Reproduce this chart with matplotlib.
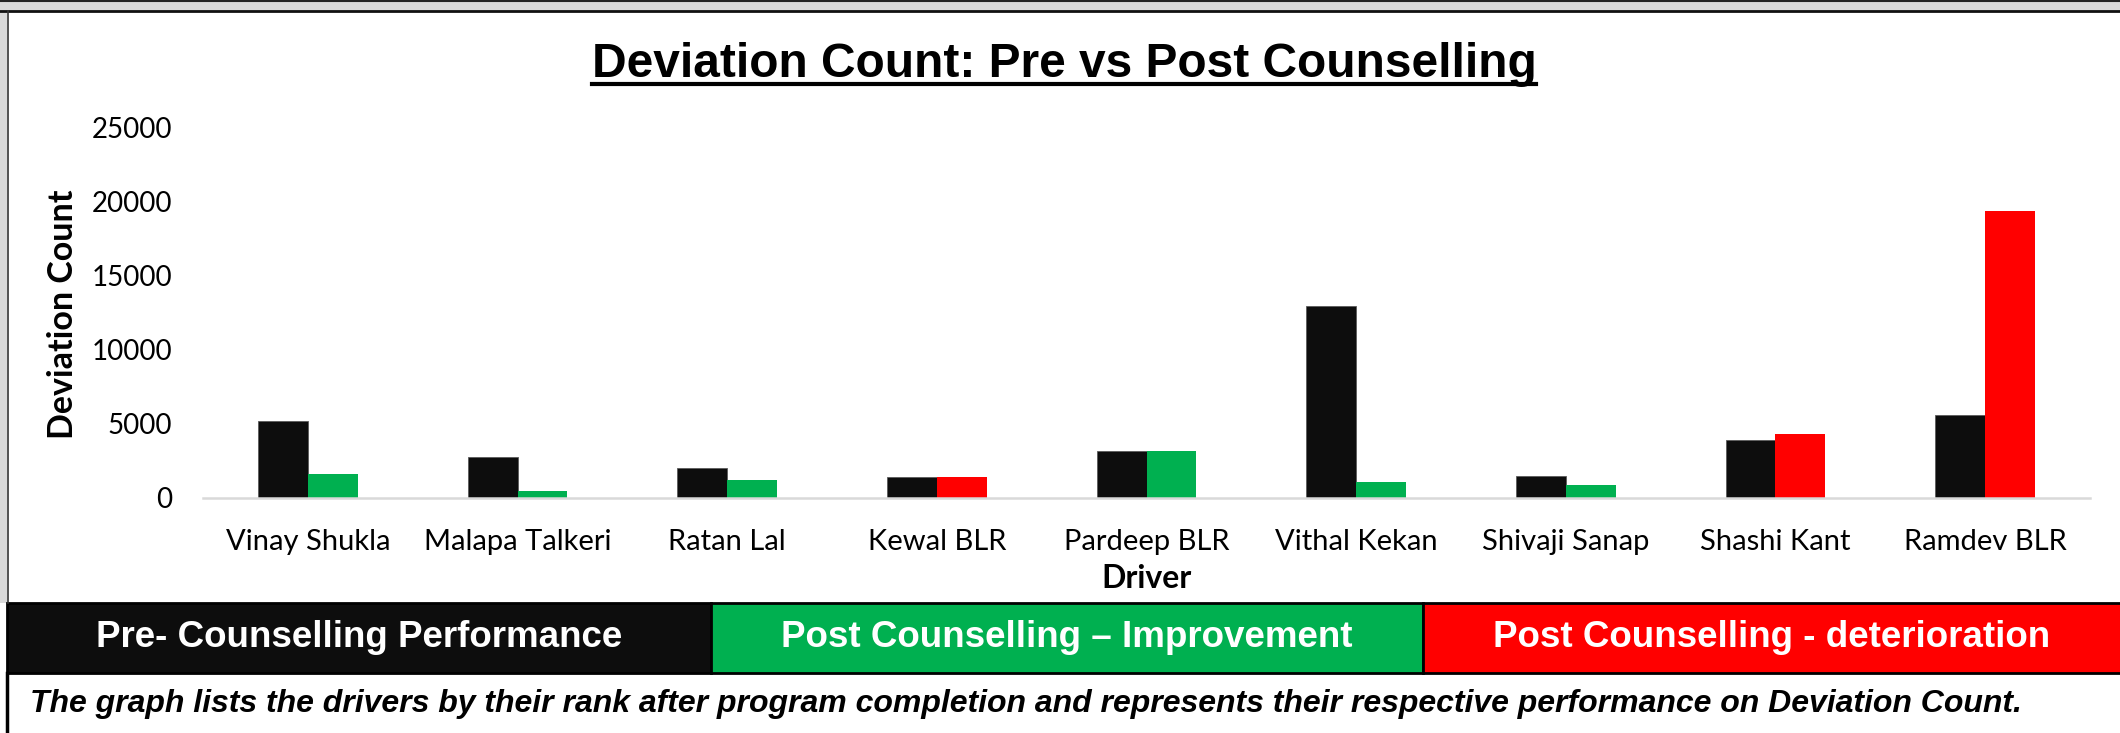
import numpy as np
import matplotlib
matplotlib.use("Agg")
import matplotlib.pyplot as plt
from matplotlib.patches import Rectangle
from matplotlib.lines import Line2D

drivers = ["Vinay Shukla", "Malapa Talkeri", "Ratan Lal", "Kewal BLR", "Pardeep BLR",
           "Vithal Kekan", "Shivaji Sanap", "Shashi Kant", "Ramdev BLR"]
pre_counselling = [5200, 2750, 2000, 1400, 3150, 13000, 1500, 3900, 5600]
post_counselling = [1600, 450, 1250, 1400, 3150, 1100, 850, 4300, 19400]
outcome = ["improvement", "improvement", "improvement", "deterioration", "improvement",
           "improvement", "improvement", "deterioration", "deterioration"]
y_ticks = [0, 5000, 10000, 15000, 20000, 25000]
legend_labels = ["Pre- Counselling Performance", "Post Counselling \u2013 Improvement",
                 "Post Counselling - deterioration"]

W, H = 2120, 733
BLACK = "#0d0d0d"
GREEN = "#00b050"
RED = "#ff0000"
colour_of = {"improvement": GREEN, "deterioration": RED}


def fx(px):
    return px / W


def fy(py):
    return 1 - py / H


fig = plt.figure(figsize=(W / 100, H / 100), dpi=100, facecolor="white")

# frame bits (gray border at top and left)
fig.add_artist(Rectangle((0, fy(12)), 1, 12 / H, transform=fig.transFigure,
                         facecolor="#d9d9d9", edgecolor="none"))
fig.add_artist(Line2D([0, 1], [fy(1), fy(1)], transform=fig.transFigure, color="#222222", lw=1.5))
fig.add_artist(Line2D([0, 1], [fy(10.5), fy(10.5)], transform=fig.transFigure, color="#111111", lw=2))
fig.add_artist(Rectangle((0, fy(603)), fx(7), 591 / H, transform=fig.transFigure,
                         facecolor="#d9d9d9", edgecolor="none"))
fig.add_artist(Line2D([fx(7.5), fx(7.5)], [fy(11), fy(603)], transform=fig.transFigure,
                      color="#333333", lw=1.2))
fig.add_artist(Line2D([fx(6.5), fx(6.5)], [fy(673), 0], transform=fig.transFigure,
                      color="black", lw=2.5))

ax = fig.add_axes([fx(203), fy(498), fx(2090) - fx(203), (498 - 128) / H])
x = np.arange(len(drivers))
w = 0.238
ax.bar(x - w / 2, pre_counselling, w, color=BLACK, edgecolor="#5a5a5a", linewidth=0.6)
ax.bar(x + w / 2, post_counselling, w, color=[colour_of[o] for o in outcome],
       edgecolor="none")

ax.set_xlim(-0.5, len(drivers) - 0.5)
ax.set_ylim(0, 25000)
ax.set_yticks(y_ticks)
ax.set_yticklabels([str(t) for t in y_ticks])
ax.set_xticks(x)
ax.set_xticklabels(drivers)
for s in ["top", "right", "left"]:
    ax.spines[s].set_visible(False)
ax.spines["bottom"].set_color("#d9d9d9")
ax.spines["bottom"].set_linewidth(1.8)
ax.tick_params(axis="both", length=0, colors="black")
ax.tick_params(axis="y", pad=22, labelsize=20)
ax.tick_params(axis="x", pad=22, labelsize=21)
for lab in ax.get_xticklabels() + ax.get_yticklabels():
    lab.set_family("Lato")
ax.set_facecolor("white")

fig.text(fx(63), fy(314), "Deviation Count", rotation=90, ha="center", va="center",
         fontsize=24.5, fontweight="bold", family="Lato")
fig.text(fx(1146), fy(579), "Driver", ha="center", va="center",
         fontsize=23, fontweight="bold", family="Lato")

title = fig.text(fx(1064), fy(77), "Deviation Count: Pre vs Post Counselling", ha="center",
                 va="baseline", fontsize=34.5, fontweight="bold", family="Liberation Sans")
fig.canvas.draw()
bb = title.get_window_extent(fig.canvas.get_renderer())
fig.add_artist(Line2D([bb.x0 / W, bb.x1 / W], [fy(84), fy(84)], transform=fig.transFigure,
                      color="black", lw=3))

# colour key boxes
boxes = [(7, 711, BLACK), (711, 1423, GREEN), (1423, 2130, RED)]
for (x0, x1, c), lab in zip(boxes, legend_labels):
    fig.add_artist(Rectangle((fx(x0), fy(673)), fx(x1 - x0), 70 / H, transform=fig.transFigure,
                             facecolor=c, edgecolor="black", linewidth=2))
    xc = (x0 + min(x1, 2120)) / 2
    fig.text(fx(xc), fy(647), lab, ha="center", va="baseline", color="white",
             fontsize=26.5, fontweight="bold", family="Liberation Sans")

fig.text(fx(30), fy(712), "The graph lists the drivers by their rank after program completion and "
         "represents their respective performance on Deviation Count.", ha="left", va="baseline",
         fontsize=23, fontweight="bold", fontstyle="italic", family="Liberation Sans")

fig.savefig("out.png", dpi=100, facecolor="white")
